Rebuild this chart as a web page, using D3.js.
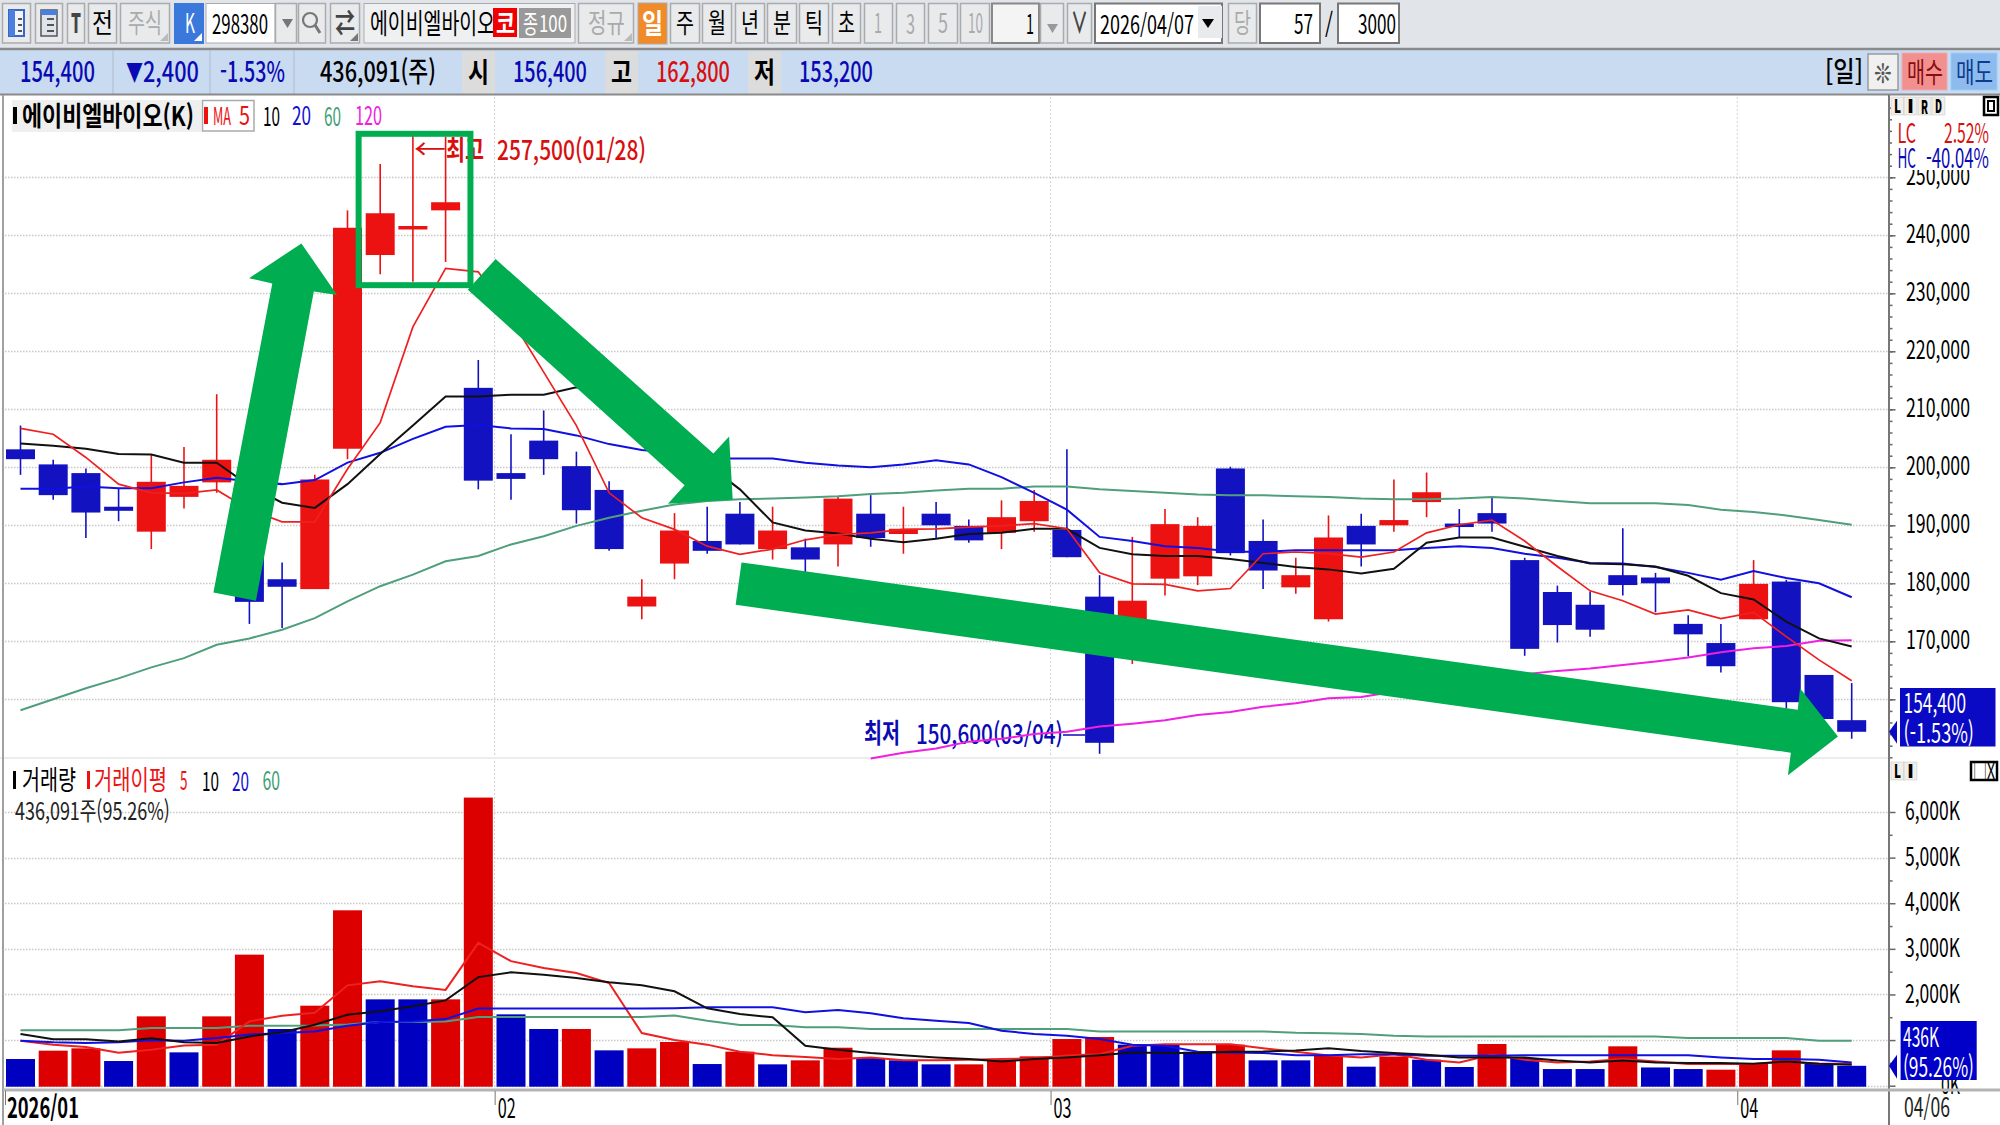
<!DOCTYPE html>
<html lang="ko"><head><meta charset="utf-8">
<script src="https://cdn.jsdelivr.net/npm/d3@7"></script>
<style>html,body{margin:0;padding:0;background:#fff;overflow:hidden}svg{display:block}text{font-family:"Noto Sans CJK KR","Noto Sans",sans-serif}</style>
</head><body><svg id="c" width="2000" height="1125"></svg>
<script>
// Values in thousand won, one entry per trading day (57 days)
const open=[203.1,200.5,199.0,193.2,188.9,194.9,197.4,184.7,180.7,179.0,203.2,236.6,241.0,244.3,213.7,199.0,204.6,200.2,196.1,176.0,183.4,187.3,192.0,185.9,186.2,186.7,192.0,188.5,192.0,189.9,188.7,190.7,189.2,177.7,169.7,180.8,181.2,199.8,187.3,179.3,173.8,189.9,190.0,194.0,190.3,192.1,184.0,178.5,176.3,181.4,181.0,173.0,169.7,173.8,180.3,164.2,156.4];
const close=[201.4,195.2,192.2,192.5,197.5,196.8,201.3,176.8,179.4,197.9,241.3,243.8,241.6,245.7,197.7,198.0,201.4,192.6,185.9,177.7,189.1,185.6,186.7,189.1,184.1,194.6,187.8,189.4,190.0,187.4,191.4,194.2,184.5,152.5,177.0,190.2,189.9,185.2,182.2,181.4,187.9,186.7,190.9,195.7,189.7,190.3,168.7,172.8,172.0,179.7,180.0,171.2,165.7,179.9,159.5,156.6,154.4];
const high=[207.2,201.3,199.8,196.4,202.1,203.5,212.6,186.0,183.6,198.7,244.3,252.3,257.5,257.0,218.5,205.7,209.8,202.7,197.6,180.7,192.1,193.2,194.0,193.2,187.7,195.0,195.2,193.2,194.0,191.0,194.3,196.1,203.1,181.4,188.0,192.8,191.4,200.1,191.0,184.4,191.7,192.0,197.9,199.1,192.8,194.8,184.4,179.6,178.6,189.5,181.8,174.5,173.0,184.0,180.6,164.2,162.8];
const low=[198.7,194.4,187.8,190.7,185.9,192.9,195.6,173.0,172.3,179.0,201.4,233.3,232.0,235.4,196.2,194.4,198.7,190.3,185.6,173.8,180.7,185.1,186.7,184.1,181.5,182.9,186.3,185.1,187.7,187.0,185.9,188.9,184.5,150.6,166.1,177.9,179.7,184.8,179.0,178.2,173.4,182.9,188.9,191.4,187.8,188.9,167.5,169.8,170.8,177.9,175.0,167.4,164.6,173.8,158.4,155.5,153.2];
const ma5=[206.7,205.7,201.7,197.1,195.6,195.5,196.1,192.7,190.6,190.6,199.7,207.7,224.2,234.3,233.7,225.6,216.4,207.2,195.6,191.3,189.3,186.4,185.0,185.9,187.5,188.4,188.7,189.3,189.4,189.7,189.9,190.3,189.4,181.8,179.9,179.8,178.7,179.1,185.1,185.4,185.1,184.5,185.4,188.7,190.1,190.9,187.3,182.9,178.7,177.0,174.7,175.4,173.9,175.0,170.8,166.8,163.2];
const ma10=[204.1,203.7,203.2,202.3,202.2,200.8,200.8,196.8,193.9,193.0,197.1,202.3,207.2,212.2,212.2,212.5,212.5,213.8,213.0,210.0,205.5,200.5,196.2,190.5,189.1,188.6,187.7,187.1,187.7,188.5,188.7,189.4,189.4,186.1,185.0,184.7,184.7,184.2,183.5,182.8,182.4,181.7,182.5,187.0,187.9,187.9,186.3,184.7,183.4,183.3,182.9,181.3,178.3,177.2,173.4,170.5,169.1];
const ma20=[196.3,196.3,196.7,196.4,196.4,197.4,198.2,197.6,197.1,197.8,200.8,202.5,204.9,207.0,207.3,206.7,206.6,205.5,204.0,203.0,202.5,201.5,201.5,201.5,200.8,200.3,200.0,200.5,201.2,200.5,198.3,195.6,192.7,188.0,187.3,186.4,186.1,185.5,185.4,185.7,185.7,185.7,185.7,186.1,186.4,186.1,185.1,184.4,183.5,183.4,182.8,181.8,180.6,182.1,180.9,180.0,177.6];
const ma60=[158.1,160.0,161.9,163.6,165.5,167.1,169.4,170.5,172.0,174.0,176.9,179.5,181.5,183.8,184.7,186.7,188.1,189.9,191.3,192.5,193.6,194.2,194.5,194.6,194.8,195.0,195.4,195.6,196.0,196.3,196.3,196.7,196.7,196.2,195.9,195.6,195.3,195.2,195.2,195.0,194.9,194.6,194.5,194.5,194.6,194.9,194.6,194.2,193.8,193.8,193.8,193.5,192.7,192.3,191.7,190.9,190.1];
const ma120=[null,null,null,null,null,null,null,null,null,null,null,null,null,null,null,null,null,null,null,null,null,null,null,null,null,null,149.8,150.8,151.5,152.7,153.2,154.0,154.4,155.3,155.8,156.4,157.3,157.8,158.7,159.3,160.2,160.4,161.3,162.2,162.9,163.6,164.3,164.9,165.3,165.9,166.5,167.2,168.1,168.8,169.2,170.1,170.2];
// Volume in thousand shares
const volume=[585,768,819,541,1520,731,1520,2873,1243,1754,3845,1893,1893,1893,6316,1564,1243,1243,775,819,958,475,746,468,556,833,607,556,468,468,570,643,1023,1067,900,900,746,900,556,556,658,417,640,570,410,914,607,365,365,863,400,365,351,482,775,482,436];
const volumeUp=[0,1,1,0,1,0,1,1,0,1,1,0,0,1,1,0,0,1,0,1,1,0,1,0,1,1,0,0,0,1,1,1,1,1,0,0,0,1,0,0,1,0,1,0,0,1,0,0,0,1,0,0,1,1,1,0,0];
const vma5=[987,900,850,720,790,880,900,1410,1535,1600,2200,2290,2180,2100,3130,2730,2580,2470,2250,1155,1000,900,746,670,630,585,620,560,556,570,585,600,660,690,877,910,910,910,820,746,660,620,690,570,510,680,570,510,530,585,530,475,475,475,530,480,480];
const vma10=[1133,1020,1020,970,1040,950,936,1080,1170,1338,1557,1630,1740,1870,2380,2485,2430,2360,2270,2200,2070,1696,1570,1500,877,790,716,670,620,585,530,585,620,670,730,716,716,746,750,770,820,760,716,680,620,620,620,550,510,550,510,500,500,480,530,480,460];
const vma20=[987,950,936,950,994,987,1045,1120,1155,1190,1316,1396,1410,1460,1690,1690,1690,1690,1690,1690,1700,1718,1718,1718,1608,1660,1586,1477,1425,1374,1206,1133,1096,1023,900,877,746,730,716,670,670,690,690,658,658,658,670,670,670,670,670,670,620,585,585,570,510];
const vma60=[1213,1213,1213,1213,1265,1265,1265,1316,1316,1320,1340,1396,1396,1410,1506,1506,1506,1506,1506,1506,1540,1425,1330,1330,1280,1280,1243,1243,1243,1243,1243,1243,1243,1190,1190,1190,1190,1190,1190,1160,1150,1133,1096,1080,1080,1080,1080,1080,1080,1080,1080,1045,1045,1045,1045,987,987];
const priceTicks=[160,170,180,190,200,210,220,230,240,250];
const volumeTicks=[0,1000,2000,3000,4000,5000,6000];
const monthTicks=[14.5,31.5,52.5];
const monthLabels=["02","03","04"];
// Annotation shapes, as [day index, thousand won]
const arrowUp=[[8.59,238.6],[9.68,229.7],[8.97,230.3],[7.20,177.0],[5.90,178.4],[7.70,231.7],[6.99,232.6]];
const arrowFall=[[14.53,235.9],[21.19,202.4],[21.67,205.3],[21.78,194.4],[19.80,193.7],[20.31,196.9],[13.68,230.6]];
const arrowTrend=[[22.05,183.6],[54.35,158.2],[54.42,161.9],[55.58,153.6],[54.05,146.9],[54.14,150.8],[21.87,176.3]];
const topZone=[[10.34,257.5],[13.76,231.4]];

const svg=d3.select("#c");
const RED="#ec1212",BLUE="#1212c0",GREEN="#00ad50";
const x=d3.scaleLinear().domain([0,56]).range([20.5,1851.7]);
const y=d3.scaleLinear().domain([150,250]).range([757.3,177.3]);
const yv=d3.scaleLinear().domain([0,6000]).range([1085.7,812]);

function fit(sel,x0,w){
  sel.attr("x",0).attr("text-anchor","start");
  const n=sel.node().getComputedTextLength();
  sel.attr("transform",`translate(${x0},0) scale(${w/n},1)`);
  return sel;
}
function T(g,s,x0,x1,yc,size,color,weight){
  const t=g.append("text").text(s).attr("y",yc-1).attr("dominant-baseline","central")
   .attr("font-size",size*1.12).attr("fill",color||"#000").attr("font-weight",weight||400);
  return fit(t,x0,x1-x0);
}
function box(g,a,b,t,h,fill,stroke,sw){
  return g.append("rect").attr("x",a).attr("y",t).attr("width",b-a).attr("height",h-t).attr("fill",fill).attr("stroke",stroke||"none").attr("stroke-width",sw||1);
}
function corner(g,rx,by,color){g.append("path").attr("d",`M${rx} ${by}h-8l8 -8z`).attr("fill",color||"#bbb");}
// ---- toolbar
const bar=svg.append("g");
box(bar,0,2000,0,49,"#e1e5ea");
const BT="#e8eaec",BS="#a9abad";
function btn(a,b,s,ta,tb,color,fill,size,weight){
  box(bar,a+.5,b-.5,3.5,43,fill||BT,BS,1.5);
  if(s) T(bar,s,ta,tb,22.5,size||24,color||"#000",weight);
}
btn(2,31);btn(35,63);
box(bar,9,24,10,36,"#f2f4fa","#3a66c8",2);box(bar,9,15,10,36,"#4a7fe0");
box(bar,41,57,10,36,"#dfe3ea","#555",1.5);box(bar,41,57,10,15,"#4a7fe0");
[18,24,30].forEach(v=>{box(bar,18,22,v,v+2,"#555");box(bar,47,54,v,v+2,"#555");});
btn(67,85,"T",71,81,"#444",null,24,900);
btn(88,117,"전",92,113);
btn(120,170,"주식",128,162,"#aaa");corner(bar,168,41);
box(bar,174,204,3,44,"#3a78dc");T(bar,"K",185,195,22,24,"#fff");corner(bar,202,41,"#fff");
box(bar,206,275,3.5,43,"#fff",BS);T(bar,"298380",212,268,23,24);
btn(275,297);bar.append("path").attr("d","M282 19h11l-5.5 9z").attr("fill","#777");
btn(298,326);bar.append("circle").attr("cx",310).attr("cy",20).attr("r",7).attr("fill","none").attr("stroke","#777").attr("stroke-width",2.2);
bar.append("line").attr("x1",315).attr("y1",25).attr("x2",320).attr("y2",33).attr("stroke","#777").attr("stroke-width",3);
btn(330,360,"⇄",335,355,"#444",null,24,700);corner(bar,358,41,"#777");
box(bar,364,575,3.5,43,"#eef0f2",BS);T(bar,"에이비엘바이오",370,495,23,25);
box(bar,493,517,8,37,"#f00000");T(bar,"코",496,515,23,23,"#fff",700);
box(bar,519,571,8,38,"#999");T(bar,"종",523,538,23,22,"#fff");T(bar,"100",539,567,23,21,"#fff");
btn(578,634,"정규",588,625,"#aaa");corner(bar,632,41);
box(bar,638,667,3,44,"#f18b28",BS);T(bar,"일",642,663,22,25,"#fff",700);
[["주",670,700],["월",702,732],["년",735,765],["분",767,797],["틱",799,829],["초",832,861]].forEach(d=>btn(d[1],d[2],d[0],d[1]+6,d[2]-6));
[["1",864,893,874,882],["3",896,925,906,915],["5",928,958,938,948],["10",960,990,968,983]].forEach(d=>btn(d[1],d[2],d[0],d[3],d[4],"#aaa"));
box(bar,992,1039,3.5,43,"#f4f4f4","#888",2);T(bar,"1",1026,1034,23,24);
btn(1040,1064);bar.append("path").attr("d","M1047 24h11l-5.5 9z").attr("fill","#999");
btn(1067,1092,"∨",1071,1088,"#444",null,26,700);
box(bar,1095,1222,3.5,43,"#fff","#777",2);T(bar,"2026/04/07",1100,1194,23,23);
box(bar,1198,1222,6,38,"#e8eaec");bar.append("path").attr("d","M1202 19h12l-6 9z").attr("fill","#000");
btn(1228,1257,"당",1234,1251,"#aaa");
box(bar,1260,1320,3.5,43,"#fff","#777",2);T(bar,"57",1294,1313,23,24);
T(bar,"/",1325,1333,23,24);
box(bar,1338,1399,3.5,43,"#fff","#777",2);T(bar,"3000",1358,1396,23,24);
// ---- quote row
const row=svg.append("g");
box(row,0,2000,48,95,"#c9dbf0");
row.append("line").attr("x1",0).attr("x2",2000).attr("y1",49).attr("y2",49).attr("stroke","#8a8a8a").attr("stroke-width",2.5);
[113,210,294].forEach(v=>row.append("line").attr("x1",v).attr("x2",v).attr("y1",50).attr("y2",94).attr("stroke","#aebccc"));
const QB="#0a0ab4",QR="#d80f0f";
T(row,"154,400",20,95,71,25,QB,500);
T(row,"▼",126,143,71,22,QB,500);T(row,"2,400",143,199,71,25,QB,500);
T(row,"-1.53%",220,285,71,25,QB,500);
T(row,"436,091(주)",320,436,71,25,"#000",500);
[["시",462,495,468,489],["고",605,638,611,632],["저",748,781,754,775]].forEach(d=>{box(row,d[1],d[2],51,94,"#dcdcdc");T(row,d[0],d[3],d[4],71,25,"#000",700);});
T(row,"156,400",513,587,71,25,QB,500);
T(row,"162,800",656,730,71,25,QR,500);
T(row,"153,200",799,873,71,25,QB,500);
T(row,"[일]",1825,1863,71,25,"#000",500);
box(row,1868,1898,54,90,"#f0f0f0","#9a9a9a",1.5);T(row,"❊",1874,1892,72,24,"#555");
box(row,1902,1947,53,90,"#f29090","#eaa");T(row,"매수",1907,1943,72,25,"#8a0c0c");
box(row,1951,1997,53,90,"#8dbbed","#9cf");T(row,"매도",1956,1993,72,25,"#0c3c90");
row.append("line").attr("x1",0).attr("x2",2000).attr("y1",94.5).attr("y2",94.5).attr("stroke","#8a8a8a").attr("stroke-width",2);
// ---- grid
const grid=svg.append("g").attr("fill","none").attr("stroke","#c8c8c8");
function hGrid(scale,vals){grid.selectAll(null).data(vals).enter().append("line").attr("x1",5).attr("x2",1888).attr("y1",d=>Math.round(scale(d))+.5).attr("y2",d=>Math.round(scale(d))+.5).attr("stroke-dasharray","1.5 1.5").attr("stroke-width",1.3);}
hGrid(y,priceTicks);
hGrid(yv,volumeTicks);
grid.selectAll(null).data(monthTicks).enter().append("line").attr("x1",d=>x(d)).attr("x2",d=>x(d)).attr("y1",97).attr("y2",1088).attr("stroke","#d2d2d2").attr("stroke-dasharray","2 2");
svg.append("line").attr("x1",0).attr("x2",1888).attr("y1",758).attr("y2",758).attr("stroke","#ececec").attr("stroke-width",2);
svg.append("line").attr("x1",3).attr("x2",3).attr("y1",95).attr("y2",1125).attr("stroke","#a0a0a0").attr("stroke-width",2);
// ---- price legend and notes
const leg=svg.append("g");
box(leg,12,201,100,132,"#efefef");
box(leg,13,17,107,124,"#000");T(leg,"에이비엘바이오(K)",22,194,115,24,"#000",700);
box(leg,202.5,254,100.5,131,"#fff","#aaa",1.5);box(leg,204,208,107,124,RED);
T(leg,"MA",213,231,115,22,RED);T(leg,"5",239,250,115,23,RED);
T(leg,"10",263,280,115,23,"#000");T(leg,"20",292,311,115,23,"#1010d0");T(leg,"60",324,341,115,23,"#3f9f78");T(leg,"120",355,382,115,23,"#f020e0");
T(leg,"←",414,446,149,24,QR);T(leg,"최고",446,484,149,24,QR,700);T(leg,"257,500(01/28)",497,646,149,24,QR,500);
T(leg,"최저",864,900,733,24,QB,700);T(leg,"150,600(03/04)",916,1063,733,24,QB,500);
leg.append("line").attr("x1",1063).attr("x2",1085).attr("y1",735).attr("y2",735).attr("stroke",QB).attr("stroke-width",1.5);
// ---- axes
const axG=svg.append("g");
function styleAxis(g){g.select(".domain").remove();g.selectAll("line").attr("stroke","#666").attr("stroke-width",1.5);}
function axisText(sel,size){sel.attr("dy",null).attr("y",-4).attr("dominant-baseline","central").attr("font-size",size).attr("font-family",'"Noto Sans CJK KR"').attr("fill","#000");}
const minor=[];for(let v=150;v<=262;v+=2)minor.push(v);
axG.append("g").attr("transform","translate(1889,0)").call(d3.axisRight(y).tickValues(minor).tickSize(3.5).tickFormat("")).call(styleAxis);
const pa=axG.append("g").attr("transform","translate(1889,0)").call(d3.axisRight(y).tickValues(priceTicks).tickSize(6.5).tickFormat(d=>d3.format(",")(d*1000))).call(styleAxis);
pa.selectAll("text").call(axisText,26).each(function(){fit(d3.select(this),17,64);});
const vMinor=d3.range(500,6500,1000);
axG.append("g").attr("transform","translate(1889,0)").call(d3.axisRight(yv).tickValues(vMinor).tickSize(3.5).tickFormat("")).call(styleAxis);
const va=axG.append("g").attr("transform","translate(1889,0)").call(d3.axisRight(yv).tickValues(volumeTicks).tickSize(6.5).tickFormat(d=>d===1000?"":d3.format(",")(d)+"K")).call(styleAxis);
va.selectAll("text").call(axisText,26).each(function(d){if(d===1000)return;const w=d===0?19:55;fit(d3.select(this),71-w,w);});
svg.append("line").attr("x1",1889).attr("x2",1889).attr("y1",95).attr("y2",1125).attr("stroke","#777").attr("stroke-width",2);
svg.append("line").attr("x1",3).attr("x2",2000).attr("y1",1090).attr("y2",1090).attr("stroke","#b4b4b4").attr("stroke-width",3);
const xa=svg.append("g").attr("transform","translate(0,1091)").call(d3.axisBottom(x).tickValues(monthTicks).tickSize(14).tickFormat((d,i)=>monthLabels[i]));
xa.select(".domain").remove();xa.selectAll("line").attr("stroke","#777");
xa.selectAll("text").attr("y",15).attr("dy",null).attr("dominant-baseline","central").attr("font-size",27).attr("font-family",'"Noto Sans CJK KR"').attr("fill","#000").each(function(){fit(d3.select(this),2.5,18);});
const xl=svg.append("g");
xl.append("line").attr("x1",5.5).attr("x2",5.5).attr("y1",1091).attr("y2",1105).attr("stroke","#777");
T(xl,"2026/01",7,79,1107,25,"#000",700);
T(xl,"04/06",1904,1950,1107,24,"#222");
// ---- candles
const cw=29;
const candles=svg.append("g");
const idx=d3.range(open.length);
candles.selectAll(null).data(idx).enter().append("line").attr("x1",i=>x(i)).attr("x2",i=>x(i)).attr("y1",i=>y(high[i])).attr("y2",i=>y(low[i]))
 .attr("stroke",i=>close[i]>=open[i]?RED:BLUE).attr("stroke-width",1.6);
candles.selectAll(null).data(idx).enter().append("rect").attr("x",i=>x(i)-cw/2).attr("width",cw)
 .attr("y",i=>y(Math.max(open[i],close[i]))).attr("height",i=>Math.abs(y(open[i])-y(close[i])))
 .attr("fill",i=>close[i]>=open[i]?RED:BLUE);
function line(scale,vals,color,w){
  const l=d3.line().defined(d=>d!=null).x((d,i)=>x(i)).y(d=>scale(d));
  svg.append("path").datum(vals).attr("d",l).attr("fill","none").attr("stroke",color).attr("stroke-width",w);
}
line(y,ma120,"#f020e0",2);
line(y,ma60,"#4f9f7c",2);
line(y,ma20,"#1010e0",2);
line(y,ma10,"#111",2);
line(y,ma5,"#ee2020",1.7);
// ---- volume
svg.append("g").selectAll("rect").data(idx).enter().append("rect").attr("x",i=>x(i)-cw/2).attr("width",cw)
 .attr("y",i=>yv(volume[i])).attr("height",i=>yv(0)-yv(volume[i])+1)
 .attr("fill",i=>volumeUp[i]?"#dc0000":"#0000c0");
line(yv,vma60,"#4f9f7c",2);
line(yv,vma5,"#ee2020",2);
line(yv,vma20,"#1010e0",2);
line(yv,vma10,"#111",2);
// ---- volume legend
const vl=svg.append("g");
box(vl,13,16,771,789,"#000");T(vl,"거래량",22,76,780,24);
box(vl,87,90,771,789,RED);T(vl,"거래이평",94,167,780,24,RED);T(vl,"5",180,187.5,780,23,RED);
T(vl,"10",202,219,780,23,"#000");T(vl,"20",232,249,780,23,"#1010d0");T(vl,"60",262.5,280,780,23,"#3f9f78");
T(vl,"436,091주(95.26%)",15,170,810.5,22,"#222");
// ---- right panel
const rp=svg.append("g");
box(rp,1892,2000,96,170,"#fff");
function sbtn(a,b,t,h,s,w){box(rp,a,b,t,h,"#f0eee8","#aaa5");T(rp,s,a+3,b-3,(t+h)/2,17,"#000",w||900);}
[["L",1891,1904],["I",1904,1917],["R",1918,1931],["D",1932,1945]].forEach(d=>sbtn(d[1],d[2],97,115,d[0]));
box(rp,1984,1998,97,115,"#fff","#000",2.5);box(rp,1988,1994,101,111,"#fff","#000",2);
T(rp,"LC",1897.5,1916,132,24,QR);T(rp,"2.52%",1944,1989,132,24,QR);
T(rp,"HC",1897.5,1916,157,24,QB);T(rp,"-40.04%",1926,1989,157,24,QB);
box(rp,1900,1995.5,688,746.5,"#0a0ac4");
rp.append("path").attr("d",d3.line()([[1889,y(154.4)],[1897,y(154.4)-11],[1897,y(154.4)+12]])).attr("fill","#0a0ac4");
T(rp,"154,400",1903.6,1966,703,24,"#fff");T(rp,"(-1.53%)",1903.6,1974,732.7,24,"#fff");
[["L",1891,1904],["I",1904,1917]].forEach(d=>sbtn(d[1],d[2],762,780,d[0]));
box(rp,1971,1997,762,780,"#fff","#000",2.5);T(rp,"□X",1973,1995,771,19,"#000");
box(rp,1900.6,1976.7,1021,1080,"#0000c8");
rp.append("path").attr("d",d3.line()([[1889,yv(436)],[1897,yv(436)-11],[1897,yv(436)+13]])).attr("fill","#0000c8");
T(rp,"436K",1903,1939,1036.7,24,"#fff");T(rp,"(95.26%)",1903,1974,1066.7,24,"#fff");
// ---- green annotations
const ann=svg.append("g").attr("fill",GREEN);
const pl=d3.line().x(d=>x(d[0])).y(d=>y(d[1]));
[arrowUp,arrowFall,arrowTrend].forEach(a=>ann.append("path").attr("d",pl(a)+"Z"));
svg.append("rect").attr("x",x(topZone[0][0])).attr("y",y(topZone[0][1])).attr("width",x(topZone[1][0])-x(topZone[0][0])).attr("height",y(topZone[1][1])-y(topZone[0][1])).attr("fill","none").attr("stroke",GREEN).attr("stroke-width",6);
</script></body></html>
